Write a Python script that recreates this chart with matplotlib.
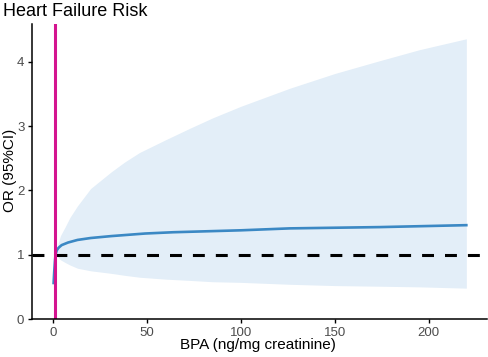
import matplotlib
matplotlib.use("Agg")
import matplotlib.pyplot as plt

plt.rcParams['font.family'] = ['Liberation Sans', 'DejaVu Sans']

# spline estimate of OR (read off the picture)
bpa_est = [0.3, 0.6, 1.0, 1.3, 2, 3, 4.6, 8, 13, 20, 31, 49, 64, 100, 126, 174, 220]
or_est = [0.56, 0.72, 0.90, 1.0, 1.07, 1.11, 1.15, 1.19, 1.23, 1.26, 1.29, 1.33, 1.35,
          1.38, 1.41, 1.43, 1.46]

# 95% CI band
bpa_ci = [1.3, 2.7, 4, 6.4, 9, 13, 20, 31, 38, 46, 60, 73, 85, 100, 126, 150, 174, 195, 220]
ci_upper = [1.0, 1.18, 1.30, 1.43, 1.58, 1.76, 2.03, 2.29, 2.44, 2.59, 2.79, 2.97, 3.13,
            3.31, 3.59, 3.82, 4.02, 4.19, 4.36]
ci_lower = [1.0, 0.96, 0.92, 0.88, 0.84, 0.79, 0.75, 0.71, 0.68, 0.65, 0.62, 0.60, 0.58,
            0.57, 0.54, 0.52, 0.51, 0.50, 0.48]

ref_bpa = 1.3
x_ticks = [0, 50, 100, 150, 200]
y_ticks = [0, 1, 2, 3, 4]

fig = plt.figure(figsize=(4.89, 3.57), dpi=100)
ax = fig.add_axes([32 / 489, 38 / 357, 455 / 489, 295 / 357])

ax.fill_between(bpa_ci, ci_lower, ci_upper, color='#E3EEF8', lw=0)
ax.plot(bpa_est, or_est, color='#3B88C4', lw=1.9)
ax.axhline(1, color='black', lw=2.2, linestyle=(0, (3.9, 3.6)))
ax.axvline(ref_bpa, color='#D4148F', lw=2.2)

ax.set_xlim(-11.2, 231)
ax.set_ylim(0, 4.59)
ax.set_xticks(x_ticks)
ax.set_yticks(y_ticks)

for side in ['top', 'right']:
    ax.spines[side].set_visible(False)
for side in ['left', 'bottom']:
    ax.spines[side].set_linewidth(1.1)
ax.tick_params(direction='out', length=3, width=1.0, colors='black',
               labelcolor='#4D4D4D', labelsize=9.5, pad=2.5)

ax.set_xlabel('BPA (ng/mg creatinine)', fontsize=11)
ax.set_ylabel('OR (95%CI)', fontsize=11)
ax.xaxis.set_label_coords(0.497, -0.088)
ax.yaxis.set_label_coords(-0.048, 0.505)
ax.xaxis.label.set_va('center')
ax.yaxis.label.set_va('center')
fig.text(3 / 489, 1 - 12 / 357, 'Heart Failure Risk', fontsize=13, va='center', ha='left')

plt.savefig('out.png', dpi=100)
